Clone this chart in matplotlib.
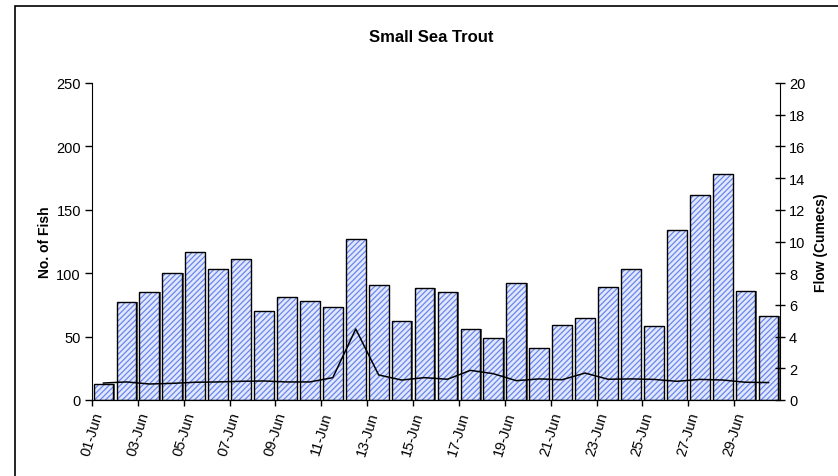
import matplotlib
matplotlib.use("Agg")
import matplotlib.pyplot as plt
import matplotlib.transforms as mtransforms
from matplotlib.patches import Rectangle
import numpy as np

plt.rcParams['font.family'] = ['Liberation Sans', 'DejaVu Sans']
plt.rcParams['hatch.linewidth'] = 0.9

# daily counts, 01-Jun .. 30-Jun
DAYS = [f"{d:02d}-Jun" for d in range(1, 31)]
FISH = [13, 77, 85, 100, 117, 103, 111, 70, 81, 78,
        73, 127, 91, 62, 88, 85, 56, 49, 92, 41,
        59, 65, 89, 103, 58, 134, 162, 178, 86, 66]
FLOW = [1.07, 1.14, 1.01, 1.05, 1.12, 1.14, 1.18, 1.20, 1.14, 1.14,
        1.41, 4.48, 1.58, 1.26, 1.41, 1.31, 1.87, 1.66, 1.22, 1.33,
        1.28, 1.70, 1.31, 1.33, 1.30, 1.18, 1.30, 1.26, 1.12, 1.10]

fig = plt.figure(figsize=(8.38, 4.77), dpi=100)
ax = fig.add_axes([92/838, 1 - 401/477, (780 - 92)/838, (401 - 84)/477])

# chart area border
fig.patches.append(Rectangle((15/838, -0.1), 1.2, 1 - 7/477 + 0.1, transform=fig.transFigure,
                             fill=False, edgecolor='black', linewidth=1.2))

x = np.arange(len(DAYS))
w = 0.86
ax.bar(x + 0.06, FISH, width=w, color='#5a5a5a', zorder=1)  # shadow
# hatch takes the edge colour, so fill+hatch first, outline on top
ax.bar(x, FISH, width=w, facecolor='#e2e8fc', edgecolor='#6a86ee', linewidth=0,
       hatch='//////', zorder=2)
ax.bar(x, FISH, width=w, fill=False, edgecolor='black', linewidth=1.0, zorder=3)

ax.set_xlim(-0.5, len(DAYS) - 0.5)
ax.set_ylim(0, 250)
ax.set_yticks(range(0, 251, 50))
ax.set_xticks(np.arange(0, 30, 2) - 0.5)
ax.set_xticklabels(DAYS[::2], rotation=73, ha='center', va='top', fontsize=10.5)
off = mtransforms.ScaledTranslation(6/100, 0, fig.dpi_scale_trans)
for lbl in ax.get_xticklabels():
    lbl.set_transform(lbl.get_transform() + off)
ax.tick_params(axis='x', length=4, width=1, pad=3)
ax.tick_params(axis='y', length=5, width=1, labelsize=10.5, pad=3)
ax.spines['top'].set_visible(False)
ax.spines['right'].set_visible(False)
ax.set_ylabel("No. of Fish", fontsize=10, fontweight='bold', labelpad=3)

ax2 = ax.twinx()
ax2.plot(x, FLOW, color='black', linewidth=1.1, zorder=4)
ax2.set_ylim(0, 20)
ax2.set_yticks(range(0, 21, 2))
ax2.tick_params(axis='y', direction='inout', length=7, width=1, labelsize=10.5, pad=3)
ax2.spines['top'].set_visible(False)
ax2.spines['left'].set_visible(False)
ax2.set_ylabel("Flow (Cumecs)", fontsize=10, fontweight='bold', labelpad=6)

fig.text(431/838, 1 - 37/477, "Small Sea Trout", ha='center', va='center',
         fontsize=12, fontweight='bold')

fig.savefig("out.png", dpi=100)
